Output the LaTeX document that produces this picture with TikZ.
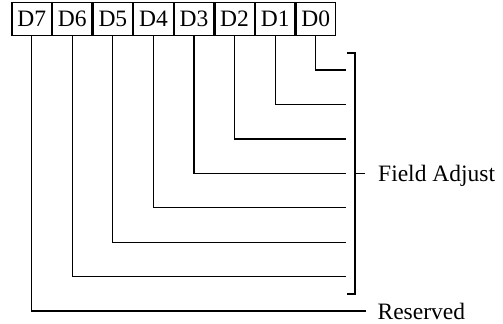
\documentclass[tikz,border=0pt]{standalone}
\usepackage{fontspec}
\setmainfont{Liberation Serif}
\usepackage{tikz}
\usetikzlibrary{positioning}

\begin{document}
\begin{tikzpicture}
[
x=0.5pt, y=-0.5pt,
line width=0.6pt,
font=\fontsize{11.75}{14}\selectfont,
bit-a/.style={draw, minimum width=19.69pt, minimum height=16.25pt, inner sep=0pt},
text-a/.style={black, anchor=west, text depth=0pt, inner ysep=0pt}
]
\useasboundingbox (0,0) rectangle (503,323);
\node (bit-7)   [bit-a] at (31.7,18.9)                 {D7};
\node (bit-6)   [bit-a, right = 00.00mm of bit-7]      {D6};
\node (bit-5)   [bit-a, right = 00.00mm of bit-6]      {D5};
\node (bit-4)   [bit-a, right = 00.00mm of bit-5]      {D4};
\node (bit-3)   [bit-a, right = 00.00mm of bit-4]      {D3};
\node (bit-2)   [bit-a, right = 00.00mm of bit-3]      {D2};
\node (bit-1)   [bit-a, right = 00.00mm of bit-2]      {D1};
\node (bit-0)   [bit-a, right = 00.00mm of bit-1]      {D0};
% line ends
\coordinate (end-0) at (346,70);
\coordinate (end-1) at (346,104.4);
\coordinate (end-2) at (346,138.9);
\coordinate (end-3) at (346,173.3);
\coordinate (end-4) at (346,207.7);
\coordinate (end-5) at (346,242.1);
\coordinate (end-6) at (346,276.6);
\coordinate (brac-t) at (347,53);
\coordinate (brac-b) at (347,294);
\coordinate (brac-m) at (355,173.5);
\node (FA)      [text-a, inner xsep=6.3pt] at (365,173.5)  {Field Adjust};
\node (RS)      [text-a, inner xsep=5.5pt] at (366,311)    {Reserved};
\draw (bit-0.south) |- (end-0);
\draw (bit-1.south) |- (end-1);
\draw (bit-2.south) |- (end-2);
\draw (bit-3.south) |- (end-3);
\draw (bit-4.south) |- (end-4);
\draw (bit-5.south) |- (end-5);
\draw (bit-6.south) |- (end-6);
\draw (bit-7.south) |- (RS.west);
\draw (brac-t) -- ++(8,0) |- (brac-b);
\draw (brac-m) -- (FA.west);
\end{tikzpicture}
\end{document}
